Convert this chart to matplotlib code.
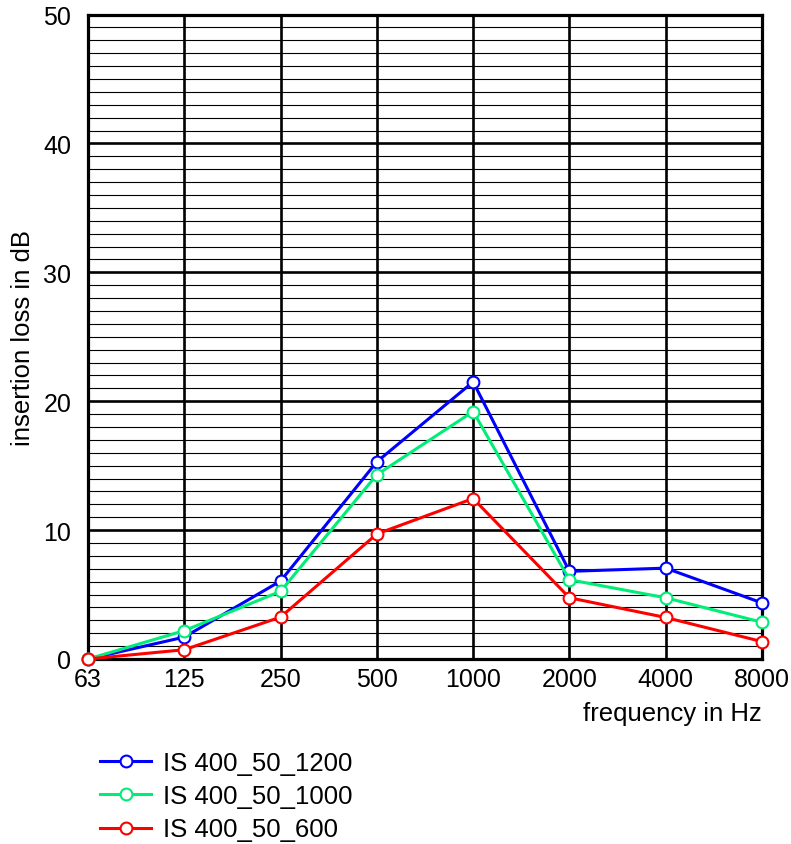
import matplotlib
matplotlib.use("Agg")
import matplotlib.pyplot as plt
from matplotlib.ticker import MultipleLocator

plt.rcParams['font.family'] = ['Liberation Sans', 'DejaVu Sans']

frequencies = ["63", "125", "250", "500", "1000", "2000", "4000", "8000"]
is_1200 = [0.0, 1.7, 6.05, 15.3, 21.5, 6.8, 7.05, 4.35]
is_1000 = [0.0, 2.2, 5.25, 14.3, 19.2, 6.15, 4.75, 2.85]
is_600 = [0.0, 0.72, 3.25, 9.7, 12.45, 4.75, 3.22, 1.35]
series_names = ["IS 400_50_1200", "IS 400_50_1000", "IS 400_50_600"]
series_colors = ["#0000ff", "#00ee77", "#ff0000"]

W, H = 791, 845
fig = plt.figure(figsize=(W / 100, H / 100), dpi=100)
ax = fig.add_axes([88 / W, 1 - 660 / H, (762 - 88) / W, (660 - 15.5) / H])

x = list(range(len(frequencies)))
ax.set_xlim(0, len(frequencies) - 1)
ax.set_ylim(0, 50)

# grid
ax.yaxis.set_major_locator(MultipleLocator(10))
ax.yaxis.set_minor_locator(MultipleLocator(1))
ax.set_xticks(x)
ax.set_xticklabels(frequencies)
ax.grid(which='major', axis='both', color='black', linewidth=1.9, zorder=1)
ax.grid(which='minor', axis='y', color='black', linewidth=0.8, zorder=1)
ax.set_axisbelow(True)
for s in ax.spines.values():
    s.set_linewidth(2.3)
    s.set_color('black')

ax.tick_params(which='both', length=0)
ax.tick_params(axis='x', pad=6, labelsize=18)
ax.tick_params(axis='y', pad=12, labelsize=18)

handles = []
for vals, name, col in zip([is_1200, is_1000, is_600], series_names, series_colors):
    h, = ax.plot(x, vals, color=col, linewidth=2.2, marker='o', markersize=8.5,
                 markerfacecolor='white', markeredgecolor=col, markeredgewidth=1.5,
                 label=name, zorder=3, clip_on=False)
    handles.append(h)

ax.set_ylabel("insertion loss in dB", fontsize=18.5, labelpad=6)
fig.text(762 / W, 1 - 714 / H, "frequency in Hz", fontsize=18.5, ha='right', va='center')

fig.legend(handles=handles, labels=series_names, loc='upper left',
           bbox_to_anchor=(100 / W, 1 - 752 / H), frameon=False, fontsize=18.5,
           handlelength=2.0, handletextpad=0.45, labelspacing=0.36,
           borderpad=0, borderaxespad=0)

fig.savefig("out.png", dpi=100)
